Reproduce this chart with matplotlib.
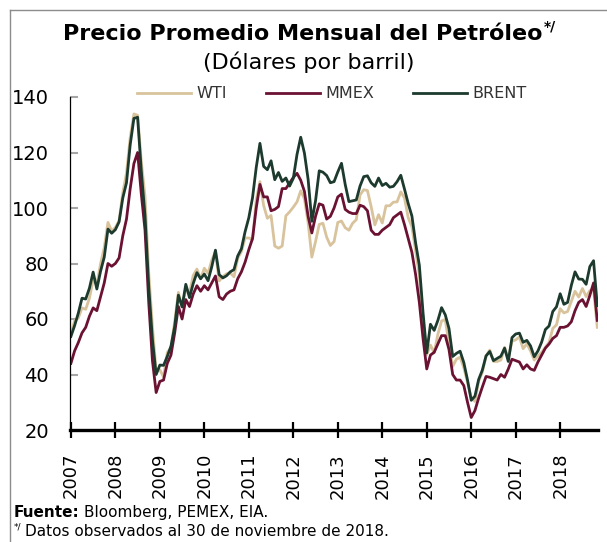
import numpy as np
import matplotlib

matplotlib.use("Agg")

import matplotlib.pyplot as plt
from matplotlib.lines import Line2D

# monthly averages, Jan 2007 - Nov 2018 (USD per barrel)
wti = [
    54.5, 59.3, 60.4, 64.0, 63.5, 67.5, 74.1, 72.4, 79.9, 85.8, 94.8, 91.7,
    93.0, 95.4, 105.5, 112.6, 125.4, 133.9, 133.4, 116.7, 104.1, 76.6, 57.3, 41.1,
    41.7, 39.1, 47.9, 49.7, 59.0, 69.6, 64.2, 71.1, 69.4, 75.7, 78.0, 74.5,
    78.3, 76.4, 81.2, 84.3, 73.7, 75.3, 76.3, 76.6, 75.2, 81.9, 84.3, 89.2,
    89.2, 88.6, 102.9, 109.5, 100.9, 96.3, 97.3, 86.3, 85.5, 86.3, 97.2, 98.6,
    100.3, 102.2, 106.2, 103.3, 94.7, 82.3, 87.9, 94.1, 94.5, 89.5, 86.5, 87.9,
    94.8, 95.3, 92.9, 92.0, 94.5, 95.8, 104.7, 106.6, 106.3, 100.5, 93.9, 97.6,
    94.6, 100.8, 100.8, 102.1, 102.2, 105.8, 103.6, 96.5, 93.2, 84.4, 75.8, 59.3,
    47.2, 50.6, 47.8, 54.5, 59.3, 59.8, 50.9, 42.9, 45.5, 46.2, 42.4, 37.2,
    31.7, 30.3, 37.6, 40.8, 46.7, 48.8, 44.7, 44.7, 45.2, 49.8, 45.7, 52.0,
    52.5, 53.5, 49.3, 51.1, 48.5, 45.2, 46.6, 48.0, 49.8, 51.6, 56.6, 57.9,
    63.7, 62.2, 62.7, 66.3, 70.0, 67.9, 71.0, 68.1, 70.2, 70.8, 57.0,
]
mmex = [
    44.0, 48.5, 51.5, 55.0, 57.0, 61.0, 64.0, 63.0, 68.0, 73.0, 80.0, 79.0,
    80.0, 82.0, 90.0, 96.0, 107.0, 116.0, 120.0, 105.0, 92.0, 66.0, 45.0, 33.5,
    37.5, 38.0, 44.0, 47.0, 55.0, 64.5, 60.0, 67.0, 64.5, 69.0, 72.0, 70.0,
    72.0, 70.5, 73.0, 75.5, 68.0, 67.0, 69.0, 70.0, 70.5, 74.5, 77.0, 80.5,
    85.0, 89.0, 100.0, 108.5, 104.0, 104.0, 99.0, 99.5, 100.5, 107.0, 107.0, 109.0,
    111.0, 112.5, 110.0, 106.0, 97.0, 91.0, 97.0, 101.5, 101.0, 96.0, 97.0, 100.0,
    104.0, 105.0, 99.5, 98.5, 98.0, 98.0, 101.0, 100.5, 99.0, 92.0, 90.5, 90.5,
    92.0, 93.0, 94.0, 96.5, 97.5, 98.5, 94.0, 89.0, 84.0, 76.0, 66.0, 53.0,
    42.0, 47.0, 48.0, 51.0, 54.0, 54.0, 49.0, 40.0, 38.0, 38.0, 36.0, 30.0,
    24.5, 27.0, 31.5, 35.5, 39.3, 39.0, 38.5, 38.0, 40.0, 39.0, 42.0, 45.5,
    45.0, 44.5, 42.0, 43.5, 42.0, 41.5, 44.5, 47.0, 49.5, 51.0, 53.0, 54.0,
    57.0, 57.0, 57.5, 59.0, 63.0, 66.0, 67.0, 64.5, 68.5, 73.0, 59.5,
]
brent = [
    53.7, 57.6, 62.1, 67.5, 67.2, 71.1, 76.9, 70.8, 77.2, 82.3, 92.4, 90.9,
    92.2, 95.0, 103.6, 109.1, 122.8, 132.3, 132.7, 113.2, 97.2, 71.6, 52.5, 40.0,
    43.4, 43.3, 46.5, 50.2, 57.3, 68.6, 64.4, 72.5, 67.7, 72.8, 76.7, 74.5,
    76.2, 73.8, 78.8, 84.8, 76.0, 74.8, 75.6, 77.0, 77.8, 82.7, 85.3, 91.5,
    96.5, 103.7, 114.6, 123.3, 115.0, 113.8, 117.0, 110.2, 112.8, 109.6, 110.8, 107.9,
    110.7, 119.3, 125.5, 119.8, 110.3, 95.2, 102.6, 113.4, 112.9, 111.7, 109.1, 109.5,
    113.0, 116.1, 108.5, 102.3, 102.6, 102.9, 107.9, 111.3, 111.6, 109.1, 107.8, 110.8,
    108.1, 108.9, 107.5, 107.8, 109.5, 111.8, 106.8, 101.6, 97.1, 87.4, 79.4, 62.3,
    47.8, 58.1, 55.9, 59.5, 64.1, 61.5, 56.6, 46.5, 47.6, 48.4, 44.3, 38.0,
    30.7, 32.2, 38.2, 41.6, 46.7, 48.3, 45.0, 45.8, 46.6, 49.5, 44.7, 53.3,
    54.6, 54.9, 51.6, 52.3, 50.3, 46.4, 48.5, 51.7, 56.2, 57.5, 62.7, 64.4,
    69.1, 65.3, 66.0, 72.1, 77.0, 74.4, 74.3, 72.5, 78.9, 81.0, 64.8,
]
years = list(range(2007, 2019))

plt.rcParams["font.family"] = ["DejaVu Sans"]

W, H = 607, 542
fig = plt.figure(figsize=(W / 100, H / 100), dpi=100)
ax = fig.add_axes([70 / W, 1 - 430 / H, (598 - 70) / W, (430 - 97) / H])

x = 2007 + np.arange(len(wti)) / 12
ax.plot(x, wti, color="#D8C39C", lw=2.0, label="WTI")
ax.plot(x, mmex, color="#6B1233", lw=2.0, label="MMEX")
ax.plot(x, brent, color="#1C3A2D", lw=2.0, label="BRENT")

ax.set_xlim(2007 - 0.02, 2018.85)
ax.set_ylim(20, 140)
ax.set_yticks(range(20, 141, 20))
ax.set_xticks(years)
ax.set_xticklabels([str(y) for y in years], rotation=90)

for s in ("top", "right"):
    ax.spines[s].set_visible(False)
ax.spines["bottom"].set_linewidth(2.4)
ax.spines["left"].set_linewidth(0.9)
ax.tick_params(axis="x", direction="inout", length=11, width=1.6,
               labelsize=13, pad=11)
ax.tick_params(axis="y", direction="in", length=6, width=1.5, color="#A6A6A6",
               labelsize=14, pad=15)

# legend
leg = fig.legend(loc="center", bbox_to_anchor=(332 / W, 1 - 94 / H), ncol=3,
                 frameon=False, fontsize=11.5, handlelength=3.4,
                 handletextpad=0.35, columnspacing=2.4)
for t in leg.get_texts():
    t.set_color("#333333")

# title
title = fig.text(303 / W, 1 - 40 / H, "Precio Promedio Mensual del Petróleo",
                 ha="center", va="baseline", fontsize=16, fontweight="bold")
fig.canvas.draw()
bb = title.get_window_extent()
fig.text(bb.x1 / W + 1 / W, 1 - 31 / H, "*/", ha="left", va="baseline",
         fontsize=10, fontweight="bold")
fig.text(309 / W, 1 - 69 / H, "(Dólares por barril)", ha="center",
         va="baseline", fontsize=16)

# footer
f1 = fig.text(14 / W, 1 - 517 / H, "Fuente:", ha="left", va="baseline",
              fontsize=11, fontweight="bold")
fig.canvas.draw()
bb = f1.get_window_extent()
fig.text(bb.x1 / W + 4 / W, 1 - 517 / H, "Bloomberg, PEMEX, EIA.", ha="left",
         va="baseline", fontsize=11)
fig.text(14 / W, 1 - 529 / H, "*/", ha="left", va="baseline", fontsize=6.5)
fig.text(25 / W, 1 - 536 / H, "Datos observados al 30 de noviembre de 2018.",
         ha="left", va="baseline", fontsize=11)

# frame edges (top and left) of the original box
fig.add_artist(Line2D([10 / W, 1], [1 - 10 / H, 1 - 10 / H], color="#8C8C8C", lw=1))
fig.add_artist(Line2D([10 / W, 10 / W], [0, 1 - 10 / H], color="#8C8C8C", lw=1))

fig.savefig("out.png", dpi=100)
